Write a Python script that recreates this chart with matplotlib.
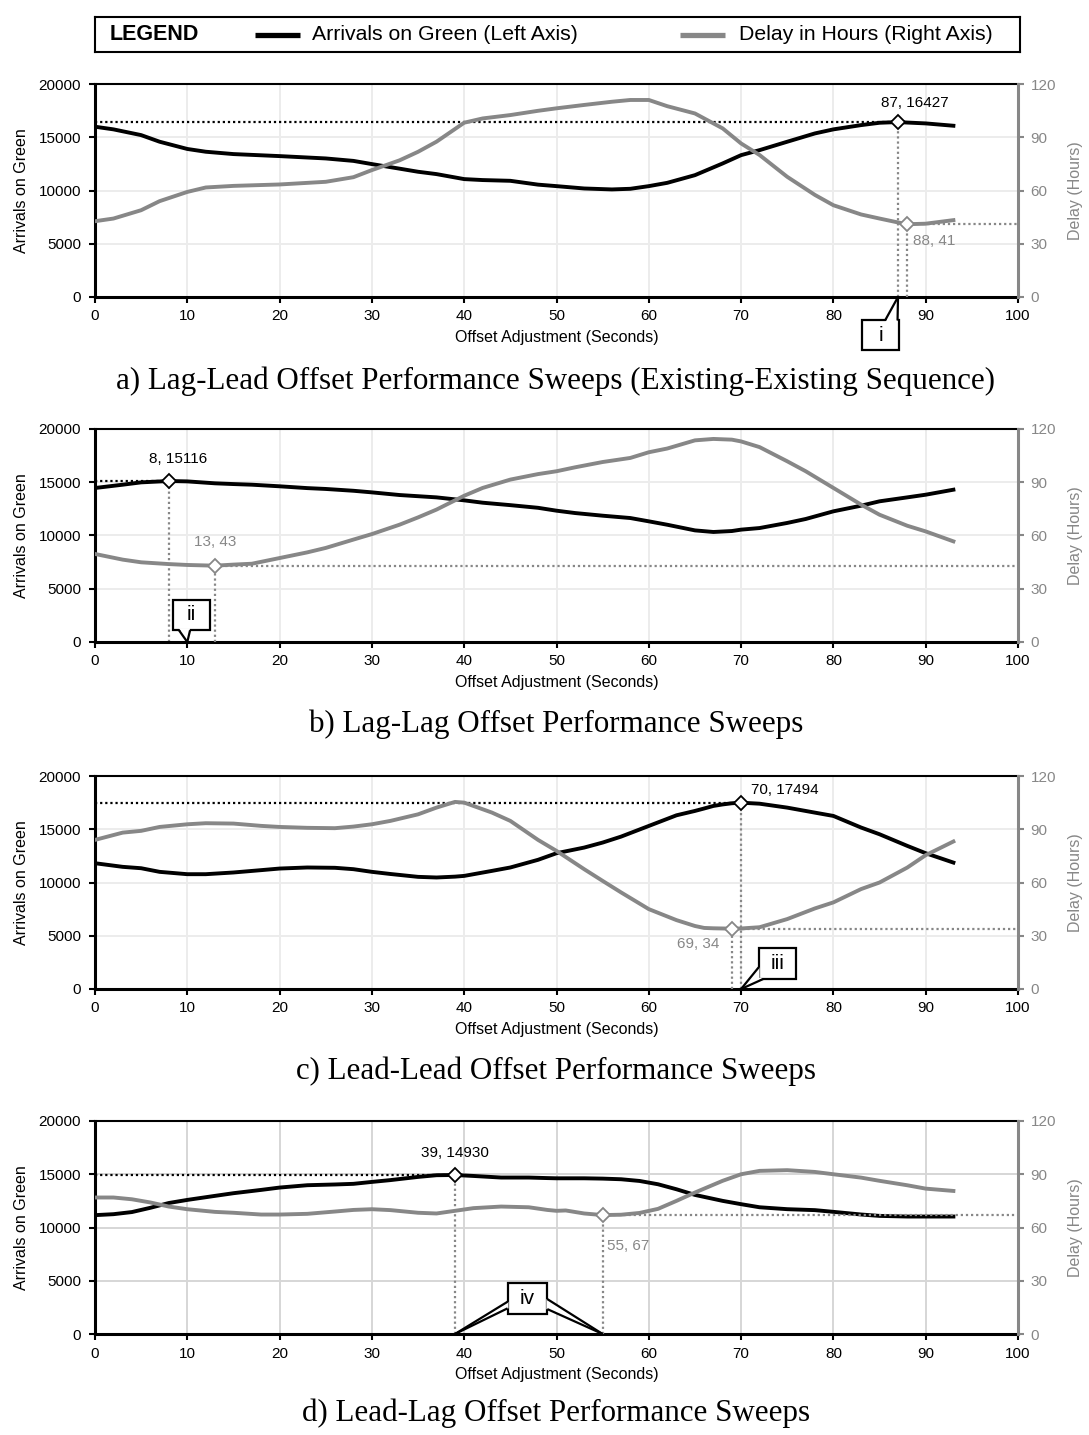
import matplotlib
matplotlib.use('Agg')
import matplotlib.pyplot as plt
from matplotlib.patches import Rectangle, Polygon

plt.rcParams['font.family'] = ['Liberation Sans', 'DejaVu Sans']

GRAY = '#878787'
W, H = 1089, 1435

# a) Lag-Lead sweep
lag_lead_x = [0, 2, 5, 7, 10, 12, 15, 20, 25, 28, 30, 33, 35, 37, 40, 42, 45, 48, 50, 53, 56, 58,
              60, 62, 65, 68, 70, 72, 75, 78, 80, 83, 85, 87, 88, 90, 93]
lag_lead_aog = [15990, 15740, 15200, 14580, 13900, 13640, 13420, 13230, 13010, 12780, 12480, 12050,
                11760, 11540, 11070, 10980, 10910, 10550, 10410, 10190, 10100, 10160, 10410, 10720,
                11440, 12540, 13320, 13790, 14580, 15360, 15740, 16140, 16360, 16427, 16380, 16300, 16080]
lag_lead_delay = [42.7, 44.2, 48.9, 54.0, 59.2, 61.7, 62.6, 63.4, 64.9, 67.5, 71.5, 77.0, 81.8, 87.5,
                  98.2, 100.6, 102.5, 104.9, 106.3, 108.2, 110.0, 111.0, 111.0, 107.5, 103.4, 95.0,
                  86.5, 80.0, 67.7, 57.5, 51.7, 46.5, 44.2, 42.0, 41.0, 41.3, 43.3]

# b) Lag-Lag sweep
lag_lag_x = [0, 3, 5, 8, 10, 13, 15, 17, 20, 23, 25, 28, 30, 33, 35, 37, 40, 42, 45, 48, 50, 52, 55,
             58, 60, 62, 65, 67, 69, 70, 72, 75, 77, 80, 83, 85, 88, 90, 93]
lag_lag_aog = [14460, 14770, 14990, 15116, 15080, 14900, 14830, 14770, 14620, 14450, 14370, 14200,
               14050, 13800, 13690, 13580, 13300, 13080, 12850, 12600, 12330, 12110, 11860, 11640,
               11330, 11010, 10480, 10330, 10420, 10550, 10700, 11180, 11550, 12270, 12800, 13210,
               13580, 13830, 14300]
lag_lag_delay = [49.6, 46.4, 44.9, 43.9, 43.4, 43.0, 43.6, 44.1, 47.3, 50.5, 53.0, 57.7, 60.8, 66.1,
                 70.2, 74.6, 82.4, 86.8, 91.5, 94.6, 96.2, 98.4, 101.4, 103.7, 106.9, 109.0, 113.6,
                 114.4, 114.0, 113.0, 109.8, 101.8, 96.2, 86.8, 77.4, 71.7, 65.5, 62.3, 56.7]

# c) Lead-Lead sweep
lead_lead_x = [0, 3, 5, 7, 10, 12, 15, 18, 20, 23, 26, 28, 30, 32, 35, 37, 39, 40, 43, 45, 48, 50, 53,
               55, 57, 60, 63, 65, 66, 67, 68, 69, 70, 72, 75, 78, 80, 83, 85, 88, 90, 93]
lead_lead_aog = [11810, 11470, 11340, 11000, 10780, 10780, 10940, 11160, 11310, 11410, 11380, 11250,
                 11000, 10800, 10530, 10470, 10550, 10620, 11090, 11410, 12130, 12750, 13280, 13750,
                 14310, 15310, 16310, 16720, 16950, 17190, 17330, 17440, 17494, 17400, 17030, 16560,
                 16250, 15160, 14530, 13440, 12750, 11870]
lead_lead_delay = [84.0, 88.1, 89.1, 91.3, 92.8, 93.4, 93.2, 91.9, 91.3, 90.8, 90.6, 91.5, 92.8, 94.7,
                   98.4, 102.2, 105.4, 105.0, 99.4, 94.7, 84.0, 77.8, 67.5, 60.9, 54.4, 45.0, 38.8,
                   35.5, 34.4, 34.2, 34.1, 34.0, 34.1, 34.8, 39.4, 45.4, 48.8, 56.3, 60.0, 68.4, 75.4,
                   83.1]

# d) Lead-Lag sweep
lead_lag_x = [0, 2, 4, 6, 8, 10, 13, 15, 18, 20, 23, 26, 28, 30, 32, 35, 37, 39, 41, 44, 47, 49, 50,
              51, 53, 55, 57, 59, 61, 63, 65, 68, 70, 72, 75, 78, 80, 83, 85, 88, 90, 93]
lead_lag_aog = [11160, 11250, 11450, 11850, 12300, 12590, 12970, 13220, 13530, 13750, 13970, 14040,
                14100, 14280, 14450, 14750, 14910, 14930, 14840, 14690, 14690, 14640, 14620, 14620,
                14620, 14590, 14530, 14370, 14060, 13590, 13060, 12500, 12190, 11900, 11720, 11630,
                11470, 11220, 11090, 11030, 11030, 11030]
lead_lag_delay = [76.9, 76.9, 75.9, 74.1, 71.8, 70.3, 68.8, 68.3, 67.3, 67.3, 67.7, 69.0, 69.9, 70.3,
                  69.8, 68.3, 67.9, 69.4, 70.9, 71.8, 71.4, 69.9, 69.4, 69.6, 67.9, 67.0, 67.2, 68.2,
                  70.5, 75.0, 79.7, 86.3, 90.0, 91.9, 92.3, 91.3, 90.0, 88.1, 86.3, 83.8, 81.9, 80.6]

captions = ['a) Lag-Lead Offset Performance Sweeps (Existing-Existing Sequence)',
            'b) Lag-Lag Offset Performance Sweeps',
            'c) Lead-Lead Offset Performance Sweeps',
            'd) Lead-Lag Offset Performance Sweeps']

# best arrivals point and best delay point of each sweep
best_aog = [(87, 16427), (8, 15116), (70, 17494), (39, 14930)]
best_delay = [(88, 41), (13, 43), (69, 34), (55, 67)]


def px_rect(l, t, r, b):
    return [l / W, 1 - b / H, (r - l) / W, (b - t) / H]


def callout(ax2, ax, x0, x1, y0, y1, text, wedges):
    tr = ax.transData
    ax2.add_patch(Rectangle((x0, y0), x1 - x0, y1 - y0, transform=tr, fc='white', ec='black',
                            lw=1.6, clip_on=False, zorder=6))
    for fill, p1, p2, apex in wedges:
        ax2.add_patch(Polygon(fill + [apex], closed=True, transform=tr, fc='white', ec='none',
                              clip_on=False, zorder=7))
        for p in (p1, p2):
            ax2.plot([p[0], apex[0]], [p[1], apex[1]], color='black', lw=1.6, transform=tr,
                     clip_on=False, zorder=8, solid_capstyle='butt')
    ax2.text((x0 + x1) / 2, (y0 + y1) / 2, text, transform=tr, ha='center', va='center',
             fontsize=15, zorder=9)


fig = plt.figure(figsize=(W / 100, H / 100), dpi=100)

# legend strip
lax = fig.add_axes(px_rect(95, 17, 1020, 52))
lax.set_xlim(95, 1020)
lax.set_ylim(52, 17)
lax.set_xticks([])
lax.set_yticks([])
for s in lax.spines.values():
    s.set_linewidth(1.5)
lax.text(110, 34.5, 'LEGEND', fontsize=15.5, fontweight='bold', va='center')
lax.plot([255, 300], [34.5, 34.5], color='black', lw=3.8, solid_capstyle='butt')
lax.text(312, 34.5, 'Arrivals on Green (Left Axis)', fontsize=15.3, va='center')
lax.plot([680, 725], [34.5, 34.5], color=GRAY, lw=3.8, solid_capstyle='butt')
lax.text(739, 34.5, 'Delay in Hours (Right Axis)', fontsize=15.3, va='center')

panels = [(lag_lead_x, lag_lead_aog, lag_lead_delay),
          (lag_lag_x, lag_lag_aog, lag_lag_delay),
          (lead_lead_x, lead_lead_aog, lead_lead_delay),
          (lead_lag_x, lead_lag_aog, lead_lag_delay)]
tops = [84, 429, 776, 1121]
caption_y = [381, 724, 1071, 1413]
grid_colors = ['#ececec', '#ececec', '#ececec', '#d6d6d6']
# (offset, ha) for the arrivals label and the delay label
label_pos = [(((12, 14), 'center'), ((4, -12), 'left')),
             (((7, 16), 'center'), ((0, 17), 'center')),
             (((7, 9), 'left'), ((-9, -11), 'right')),
             (((0, 16), 'center'), ((3, -22), 'left'))]
dot = (0, (1, 1.3))

axes = []
for i, (x, aog, delay) in enumerate(panels):
    ax = fig.add_axes(px_rect(95, tops[i], 1018, tops[i] + 213))
    ax2 = ax.twinx()
    axes.append((ax, ax2))

    ax.set_xlim(0, 100)
    ax.set_ylim(0, 20000)
    ax2.set_ylim(0, 120)
    ax.set_xticks(range(0, 101, 10))
    ax.set_yticks(range(0, 20001, 5000))
    ax2.set_yticks(range(0, 121, 30))
    ax.grid(True, color=grid_colors[i], lw=1.4)
    ax.set_axisbelow(True)

    ax.tick_params(labelsize=11, length=4, width=1.5, color='black')
    ax.tick_params(axis='y', pad=6)
    ax.tick_params(axis='x', pad=5)
    ax2.tick_params(labelsize=11, length=4, width=1.5, pad=5, colors=GRAY)
    ax.set_xlabel('Offset Adjustment (Seconds)', fontsize=11.5, labelpad=5)
    ax.set_ylabel('Arrivals on Green', fontsize=11.5, labelpad=7)
    ax2.set_ylabel('Delay (Hours)', fontsize=11.5, color=GRAY, labelpad=9)

    for side in ('left', 'bottom'):
        ax.spines[side].set_linewidth(2.2)
    ax.spines['top'].set_linewidth(1.5)
    ax.spines['right'].set_visible(False)
    for side in ('left', 'bottom', 'top'):
        ax2.spines[side].set_visible(False)
    ax2.spines['right'].set_color(GRAY)
    ax2.spines['right'].set_linewidth(2.2)

    ax.plot(x, aog, color='black', lw=2.8, zorder=3)
    ax2.plot(x, delay, color=GRAY, lw=2.8, zorder=3)

    xa, va = best_aog[i]
    xd, vd = best_delay[i]
    ax.plot([0, xa], [va, va], color='black', lw=1.6, ls=dot, zorder=2)
    ax.plot([xa, xa], [0, va], color=GRAY, lw=1.6, ls=dot, zorder=2)
    ax2.plot([xd, 100], [vd, vd], color=GRAY, lw=1.6, ls=dot, zorder=2)
    ax2.plot([xd, xd], [0, vd], color=GRAY, lw=1.6, ls=dot, zorder=2)
    ax.plot(xa, va, marker='D', ms=7, mfc='white', mec='black', mew=1.3, zorder=4)
    ax2.plot(xd, vd, marker='D', ms=7, mfc='white', mec=GRAY, mew=1.3, zorder=4)

    (oa, ha_a), (od, ha_d) = label_pos[i]
    ax.annotate(f'{xa}, {va}', (xa, va), xytext=oa, textcoords='offset points',
                ha=ha_a, va='center', fontsize=11, color='black', zorder=5)
    ax2.annotate(f'{xd}, {vd}', (xd, vd), xytext=od, textcoords='offset points',
                 ha=ha_d, va='center', fontsize=11, color=GRAY, zorder=5)

    fig.text(556 / W, 1 - caption_y[i] / H, captions[i], ha='center', va='center',
             family=['Liberation Serif', 'DejaVu Serif'], fontsize=22.3)

# numbered callouts pointing at the chosen offsets
ax, ax2 = axes[0]
callout(ax2, ax, 83.1, 87.15, -4950, -2200, 'i',
        [([(85.6, -2400), (86.95, -2400), (86.95, -2200)], (85.6, -2200), (86.95, -2200), (87, 0))])
ax, ax2 = axes[1]
callout(ax2, ax, 8.46, 12.5, 1100, 3975, 'ii',
        [([(9.1, 1300), (10.3, 1300)], (9.1, 1100), (10.3, 1100), (10, 0))])
ax, ax2 = axes[2]
callout(ax2, ax, 71.9, 75.9, 940, 3810, 'iii',
        [([(72.0, 2030), (72.0, 1040), (72.4, 1040)], (71.9, 2030), (72.4, 940), (70, 0))])
ax, ax2 = axes[3]
callout(ax2, ax, 44.7, 49.0, 1875, 4780, 'iv',
        [([(44.8, 3030), (44.8, 2410)], (44.7, 3030), (44.7, 2410), (39, 0)),
         ([(48.9, 3280), (48.9, 2340)], (49.0, 3280), (49.0, 2340), (55, 0))])

fig.savefig('out.png', dpi=100)
